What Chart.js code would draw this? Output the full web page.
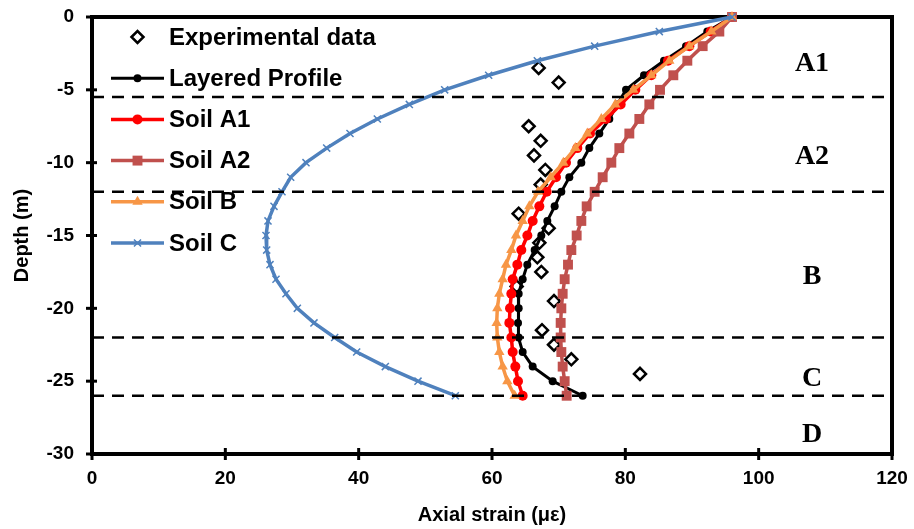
<!DOCTYPE html>
<html>
<head>
<meta charset="utf-8">
<script src="https://cdn.jsdelivr.net/npm/chart.js@4.4.0/dist/chart.umd.min.js"></script>
<style>
  html, body { margin: 0; padding: 0; background: #fff; }
</style>
</head>
<body>
<canvas id="myChart" width="914" height="529"></canvas>
<script>
// depth points (m) shared by the computed profiles
var depths = [0, -1, -2, -3, -4, -5, -6, -7, -8, -9, -10, -11, -12, -13, -14, -15, -16, -17, -18, -19, -20, -21, -22, -23, -24, -25, -26];
var layered = [96.0, 92.3, 89.1, 85.8, 82.8, 80.1, 78.8, 77.6, 76.1, 74.6, 73.4, 71.6, 70.4, 69.4, 68.3, 67.4, 66.4, 65.3, 64.6, 64.0, 64.0, 63.9, 64.0, 64.6, 66.1, 69.1, 73.6];
var soilA1 = [96.0, 92.8, 89.6, 86.4, 83.9, 81.5, 79.3, 77.1, 74.7, 72.8, 71.1, 69.6, 68.2, 67.1, 66.1, 65.3, 64.4, 63.8, 63.1, 62.9, 62.7, 62.6, 62.9, 63.1, 63.5, 63.9, 64.6];
var soilA2 = [96.0, 94.1, 91.6, 89.3, 87.2, 85.2, 83.6, 82.1, 80.6, 79.1, 77.9, 76.6, 75.4, 74.2, 73.4, 72.7, 71.9, 71.4, 70.9, 70.6, 70.4, 70.3, 70.3, 70.4, 70.6, 70.9, 71.2];
var soilB = [96.0, 92.9, 89.6, 86.6, 83.9, 81.2, 78.5, 76.4, 74.3, 72.5, 70.7, 68.8, 66.9, 65.6, 64.6, 63.6, 62.9, 62.1, 61.6, 61.1, 60.8, 60.7, 60.8, 61.1, 61.6, 62.3, 63.4];
var soilC = [96.0, 85.1, 75.4, 66.8, 59.5, 52.9, 47.6, 42.8, 38.7, 35.2, 32.1, 29.8, 28.5, 27.3, 26.4, 26.1, 26.2, 26.7, 27.6, 29.1, 30.8, 33.3, 36.4, 39.7, 44.0, 48.9, 54.5];

// measured values
var expDepths = [-3.5, -4.5, -7.5, -8.5, -9.5, -10.5, -11.5, -13.5, -14.5, -15.5, -16.5, -17.5, -18.5, -19.5, -21.5, -22.5, -23.5, -24.5];
var expStrain = [67.0, 70.0, 65.5, 67.3, 66.3, 68.0, 67.3, 64.0, 68.5, 67.1, 66.8, 67.4, 63.7, 69.3, 67.5, 69.3, 71.9, 82.2];

// soil layers
var layerBounds = [-5.5, -12, -22, -26];
var zoneNames = ['A1', 'A2', 'B', 'C', 'D'];
var zoneDepths = [-3.2, -9.6, -17.8, -24.85, -28.65];
var zoneX = 108;

var seriesNames = ['Experimental data', 'Layered Profile', 'Soil A1', 'Soil A2', 'Soil B', 'Soil C'];

function pts(xs, ys) {
  var out = [];
  for (var i = 0; i < xs.length; i++) out.push({x: xs[i], y: ys[i]});
  return out;
}

var series = [
  {label: seriesNames[0], data: pts(expStrain, expDepths), showLine: false, borderColor: '#000', backgroundColor: '#fff',
   pointStyle: 'rectRot', pointRadius: 6, pointBorderWidth: 2.5, order: 6},
  {label: seriesNames[1], data: pts(layered, depths), borderColor: '#000', backgroundColor: '#000', borderWidth: 3,
   pointStyle: 'circle', pointRadius: 4, pointBorderWidth: 0, order: 5},
  {label: seriesNames[2], data: pts(soilA1, depths), borderColor: '#FF0000', backgroundColor: '#FF0000', borderWidth: 3.5,
   pointStyle: 'circle', pointRadius: 5, pointBorderWidth: 0, order: 4},
  {label: seriesNames[3], data: pts(soilA2, depths), borderColor: '#C0504D', backgroundColor: '#C0504D', borderWidth: 3.5,
   pointStyle: 'rect', pointRadius: 7, pointBorderWidth: 0, order: 3},
  {label: seriesNames[4], data: pts(soilB, depths), borderColor: '#F79646', backgroundColor: '#F79646', borderWidth: 3.5,
   pointStyle: 'triangle', pointRadius: 6, pointBorderWidth: 0, order: 2},
  {label: seriesNames[5], data: pts(soilC, depths), borderColor: '#4F81BD', backgroundColor: '#4F81BD', borderWidth: 3.5,
   pointStyle: 'crossRot', pointRadius: 5, pointBorderWidth: 1.5, order: 1}
];

var datasets = series.map(function (s) {
  s.showLine = s.showLine !== false;
  s.clip = false;
  s.pointBorderColor = s.borderColor;
  s.pointBackgroundColor = s.backgroundColor;
  s.pointHoverRadius = s.pointRadius;
  return s;
});
layerBounds.forEach(function (d) {
  datasets.push({label: 'layer', data: [{x: 0, y: d}, {x: 120, y: d}], showLine: true, borderColor: '#000',
    borderWidth: 2.5, borderDash: [12, 8], pointRadius: 0, order: 0, clip: false});
});

var frame = {
  id: 'frame',
  beforeDatasetsDraw: function (chart) {
    var ctx = chart.ctx, a = chart.chartArea, xs = chart.scales.x, ys = chart.scales.y;
    ctx.save();
    ctx.strokeStyle = '#000';
    ctx.lineWidth = 3;
    xs.ticks.forEach(function (t) {
      var px = xs.getPixelForValue(t.value);
      ctx.beginPath(); ctx.moveTo(px, a.bottom - 6); ctx.lineTo(px, a.bottom + 6); ctx.stroke();
    });
    ys.ticks.forEach(function (t) {
      var py = ys.getPixelForValue(t.value);
      ctx.beginPath(); ctx.moveTo(a.left - 6, py); ctx.lineTo(a.left + 5, py); ctx.stroke();
    });
    ctx.lineWidth = 4;
    ctx.strokeRect(a.left, a.top, a.right - a.left, a.bottom - a.top);

    // zone labels
    ctx.fillStyle = '#000';
    ctx.font = 'bold 28px "Liberation Serif", "Times New Roman", serif';
    ctx.textAlign = 'center';
    ctx.textBaseline = 'middle';
    zoneNames.forEach(function (n, i) {
      ctx.fillText(n, xs.getPixelForValue(zoneX), ys.getPixelForValue(zoneDepths[i]));
    });
    ctx.restore();
  },
  afterDatasetsDraw: function (chart) {
    // legend inside the plot
    var ctx = chart.ctx;
    var x0 = 111, x1 = 164, y0 = 37, dy = 41.2;
    ctx.save();
    seriesNames.forEach(function (name, i) {
      var ds = chart.data.datasets[i];
      var y = y0 + i * dy;
      if (ds.showLine) {
        ctx.strokeStyle = ds.borderColor;
        ctx.lineWidth = ds.borderWidth;
        ctx.setLineDash([]);
        ctx.beginPath(); ctx.moveTo(x0, y); ctx.lineTo(x1, y); ctx.stroke();
      }
      ctx.fillStyle = ds.backgroundColor;
      ctx.strokeStyle = ds.borderColor;
      ctx.lineWidth = ds.pointBorderWidth;
      Chart.helpers.drawPoint(ctx, {pointStyle: ds.pointStyle, radius: ds.pointRadius, borderWidth: ds.pointBorderWidth, rotation: 0},
        (x0 + x1) / 2, y);
      ctx.fillStyle = '#000';
      ctx.font = 'bold 24px "Liberation Sans", Arial, sans-serif';
      ctx.textAlign = 'left';
      ctx.textBaseline = 'middle';
      ctx.fillText(name, 169, y + 1);
    });
    ctx.restore();
  }
};

var tickFont = {family: '"Liberation Sans", Arial, sans-serif', size: 19, weight: 'bold'};
var titleFont = {family: '"Liberation Sans", Arial, sans-serif', size: 20, weight: 'bold'};

new Chart(document.getElementById('myChart'), {
  type: 'scatter',
  data: {datasets: datasets},
  options: {
    responsive: false,
    animation: false,
    layout: {padding: {left: 0, right: 22, top: 17, bottom: 0}},
    plugins: {legend: {display: false}, tooltip: {enabled: false}},
    scales: {
      x: {
        type: 'linear', min: 0, max: 120,
        grid: {display: false, drawTicks: false},
        border: {display: false},
        ticks: {stepSize: 20, color: '#000', font: tickFont, padding: 13},
        title: {display: true, text: 'Axial strain (με)', color: '#000', font: titleFont, padding: {top: 0, bottom: 2}},
        afterFit: function (s) { s.height = 75; s.paddingLeft = 0; s.paddingRight = 0; }
      },
      y: {
        type: 'linear', min: -30, max: 0,
        grid: {display: false, drawTicks: false},
        border: {display: false},
        ticks: {stepSize: 5, color: '#000', font: tickFont, padding: 18},
        title: {display: true, text: 'Depth (m)', color: '#000', font: titleFont, padding: {top: 10, bottom: 0}},
        afterFit: function (s) { s.width = 92; s.paddingTop = 0; s.paddingBottom = 0; }
      }
    }
  },
  plugins: [frame]
});
</script>
</body>
</html>
